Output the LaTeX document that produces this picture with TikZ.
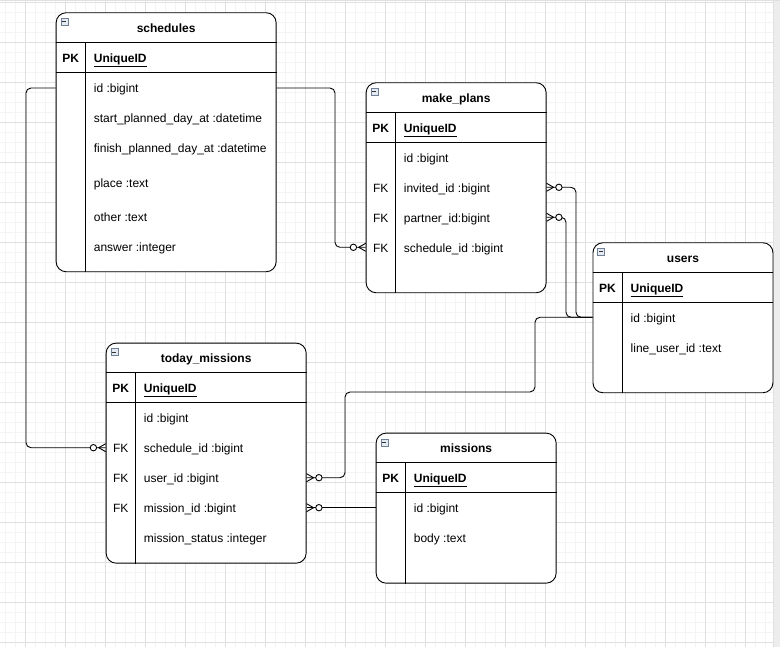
\documentclass[tikz,border=0pt]{standalone}
\usepackage{fontspec}
\setmainfont{Liberation Sans}
\usetikzlibrary{calc}
\definecolor{gridminor}{HTML}{F4F4F4}
\definecolor{gridmajor}{HTML}{E0E0E0}
\definecolor{iconborder}{HTML}{6F7F95}
\definecolor{iconfill}{HTML}{E4EAF2}
\definecolor{pageedge}{HTML}{EDEDED}
\newcommand\erskel[2]{%
  \draw[sep] ($(#1.north west)+(0,30)$) -- ($(#1.north east)+(0,30)$);
  \draw[sep] ($(#1.north west)+(0,60)$) -- ($(#1.north east)+(0,60)$);
  \draw[sep] ($(#1.north west)+(30,30)$) -- ($(#1.south west)+(30,0)$);
  \node[icon] (#1-icon) at ($(#1.north west)+(8.6,9.6)$) {};
  \node[title] (#1-title) at ($(#1.north)+(0,15)$) {#2};
  \node[pkcol] (#1-pk) at ($(#1.north west)+(15,45)$) {PK};
  \node[pkname] (#1-uid) at ($(#1.north west)+(38,45)$) {\underline{UniqueID}};
}
\begin{document}
\begin{tikzpicture}[x=1pt,y=-1pt,
  font=\fontsize{12}{14}\selectfont,
  tbl/.style={draw=black, line width=0.9pt, rounded corners=10pt, inner sep=0pt, anchor=north west},
  sep/.style={draw=black, line width=0.9pt},
  title/.style={font=\fontsize{12}{14}\selectfont\bfseries, inner sep=0pt, text height=11pt, text depth=1pt},
  keycol/.style={inner sep=0pt, text height=11pt, text depth=1pt},
  pkcol/.style={keycol, font=\fontsize{12}{14}\selectfont\bfseries},
  rowtext/.style={anchor=west, inner sep=0pt, text height=11pt, text depth=1pt},
  pkname/.style={rowtext, font=\fontsize{12}{14}\selectfont\bfseries},
  icon/.style={draw=iconborder, fill=iconfill, line width=0.6pt, minimum size=7pt, inner sep=0pt,
    path picture={\draw[black!80, line width=0.8pt] ([xshift=1.5pt]path picture bounding box.west) -- ([xshift=-1.5pt]path picture bounding box.east);}},
  conn/.style={draw=black, line width=0.9pt, rounded corners=5pt},
  zmany/.pic={\draw[black, line width=0.9pt] (0,-4) -- (7,0) -- (0,4);
              \draw[black, line width=0.9pt, fill=white] (12.3,0) circle[radius=3.2];}
]
\useasboundingbox (0,0) rectangle (780,647);
% background grid
\fill[white] (0,0) rectangle (780,647);
\foreach \x in {5,15,...,765} \draw[gridminor, line width=1pt] (\x,0) -- (\x,647);
\foreach \y in {2.7,12.7,...,642.8} \draw[gridminor, line width=1pt] (0,\y) -- (773.5,\y);
\foreach \x in {25,65,...,745} \draw[gridmajor, line width=1pt] (\x,0) -- (\x,647);
\foreach \y in {2.7,42.7,...,642.8} \draw[gridmajor, line width=1pt] (0,\y) -- (773.5,\y);
\fill[pageedge] (773.5,0) rectangle (780,647);
\draw[gridmajor, line width=1pt] (773.5,0) -- (773.5,647);
\fill[gridmajor] (0,0) rectangle (780,1.5);

% ---------- schedules ----------
\node[tbl, fill=white, minimum width=220pt, minimum height=259pt] (schedules) at (55.7,12.3) {};
\erskel{schedules}{schedules}
\node[rowtext] (sch-r1) at ($(schedules.north west)+(38,75.7)$) {id :bigint};
\node[rowtext] (sch-r2) at ($(schedules.north west)+(38,105.7)$) {start\_planned\_day\_at :datetime};
\node[rowtext] (sch-r3) at ($(schedules.north west)+(38,135.7)$) {finish\_planned\_day\_at :datetime};
\node[rowtext] (sch-r4) at ($(schedules.north west)+(38,170.7)$) {place :text};
\node[rowtext] (sch-r5) at ($(schedules.north west)+(38,204.7)$) {other :text};
\node[rowtext] (sch-r6) at ($(schedules.north west)+(38,234.7)$) {answer :integer};

% ---------- make_plans ----------
\node[tbl, fill=white, minimum width=180pt, minimum height=210pt] (make_plans) at (365.7,82.3) {};
\erskel{make_plans}{make\_plans}
\node[rowtext] (mp-r1) at ($(make_plans.north west)+(38,75)$) {id :bigint};
\node[rowtext] (mp-r2) at ($(make_plans.north west)+(38,105)$) {invited\_id :bigint};
\node[rowtext] (mp-r3) at ($(make_plans.north west)+(38,135)$) {partner\_id:bigint};
\node[rowtext] (mp-r4) at ($(make_plans.north west)+(38,165)$) {schedule\_id :bigint};
\node[keycol] (mp-k2) at ($(make_plans.north west)+(15,105)$) {FK};
\node[keycol] (mp-k3) at ($(make_plans.north west)+(15,135)$) {FK};
\node[keycol] (mp-k4) at ($(make_plans.north west)+(15,165)$) {FK};

% ---------- users ----------
\node[tbl, fill=white, minimum width=180pt, minimum height=150pt] (users) at (592.5,242.3) {};
\erskel{users}{users}
\node[rowtext] (us-r1) at ($(users.north west)+(38,75)$) {id :bigint};
\node[rowtext] (us-r2) at ($(users.north west)+(38,105)$) {line\_user\_id :text};

% ---------- today_missions ----------
\node[tbl, fill=white, minimum width=200pt, minimum height=220pt] (today_missions) at (105.7,342.7) {};
\erskel{today_missions}{today\_missions}
\node[rowtext] (tm-r1) at ($(today_missions.north west)+(38,75)$) {id :bigint};
\node[rowtext] (tm-r2) at ($(today_missions.north west)+(38,105)$) {schedule\_id :bigint};
\node[rowtext] (tm-r3) at ($(today_missions.north west)+(38,135)$) {user\_id :bigint};
\node[rowtext] (tm-r4) at ($(today_missions.north west)+(38,165)$) {mission\_id :bigint};
\node[rowtext] (tm-r5) at ($(today_missions.north west)+(38,195)$) {mission\_status :integer};
\node[keycol] (tm-k2) at ($(today_missions.north west)+(15,105)$) {FK};
\node[keycol] (tm-k3) at ($(today_missions.north west)+(15,135)$) {FK};
\node[keycol] (tm-k4) at ($(today_missions.north west)+(15,165)$) {FK};

% ---------- missions ----------
\node[tbl, fill=white, minimum width=180pt, minimum height=150pt] (missions) at (375.7,432.7) {};
\erskel{missions}{missions}
\node[rowtext] (mi-r1) at ($(missions.north west)+(38,75)$) {id :bigint};
\node[rowtext] (mi-r2) at ($(missions.north west)+(38,105)$) {body :text};

% ---------- connectors ----------
\draw[conn] (schedules.east |- sch-r1) -| (335,247.3) -- (make_plans.west |- mp-r4);
\draw[conn] (schedules.west |- sch-r1) -| (26,447.7) -- (today_missions.west |- tm-r2);
\draw[conn] (make_plans.east |- mp-r2) -| (576,317.3) -- (users.west |- us-r1);
\draw[conn] (make_plans.east |- mp-r3) -| (566,317.3) -- (users.west |- us-r1);
\draw[conn] (users.west |- us-r1) -- (535,317.3) -- (535,392) -- (345,392) -- (345,477.7) -- (today_missions.east |- tm-r3);
\draw[conn] (missions.west |- mi-r1) -- (today_missions.east |- tm-r4);

\pic[xscale=-1] at (make_plans.west |- mp-r4) {zmany};
\pic[xscale=-1] at (today_missions.west |- tm-r2) {zmany};
\pic at (make_plans.east |- mp-r2) {zmany};
\pic at (make_plans.east |- mp-r3) {zmany};
\pic at (today_missions.east |- tm-r3) {zmany};
\pic at (today_missions.east |- tm-r4) {zmany};
\end{tikzpicture}
\end{document}
